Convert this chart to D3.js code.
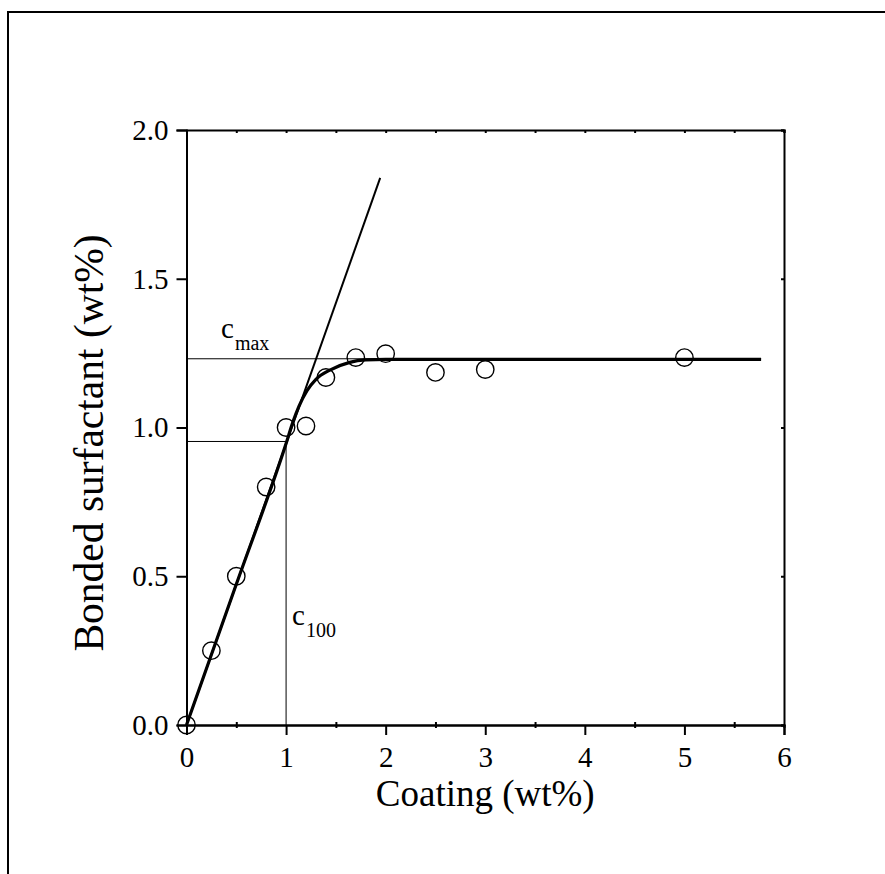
<!DOCTYPE html>
<html>
<head>
<meta charset="utf-8">
<script src="https://cdn.jsdelivr.net/npm/d3@7"></script>
<style>
  html, body { margin: 0; padding: 0; background: #fff; }
  svg { display: block; }
  text { font-family: "Liberation Serif", "Times New Roman", serif; fill: #000; }
</style>
</head>
<body>
<svg id="chart" width="885" height="874"></svg>
<script>
// ---- data ----
const coating    = [0, 0.25, 0.5, 0.8, 1.0, 1.2, 1.4, 1.7, 2.0, 2.5, 3.0, 5.0];
const surfactant = [0, 0.25, 0.5, 0.8, 1.0, 1.005, 1.168, 1.235, 1.248, 1.185, 1.195, 1.235];

const fitX = [0, 0.5, 1.0, 1.07, 1.13, 1.21, 1.3, 1.44, 1.64, 1.8, 2.0, 5.77];
const fitY = [0, 0.473, 0.946, 1.02, 1.072, 1.124, 1.162, 1.193, 1.219, 1.227, 1.229, 1.229];

const slopeLineX = [0, 1.945];
const slopeLineY = [0, 1.839];

const cMax = 1.231;
const cMaxEndX = 5.77;
const c100X = 1.0;
const c100Y = 0.953;

const xTicks = [0, 1, 2, 3, 4, 5, 6];
const yTicks = [0.0, 0.5, 1.0, 1.5, 2.0];
const xMinor = [0.5, 1.5, 2.5, 3.5, 4.5, 5.5];

const xTitle = "Coating (wt%)";
const yTitle = "Bonded surfactant (wt%)";

(function () {
const FONT = '"Liberation Serif", "Times New Roman", serif';
// ---- layout ----
const svg = d3.select("#chart");
const L = 186.5, R = 784, T = 130, B = 725;
const x = d3.scaleLinear().domain([0, 6]).range([L, R]);
const y = d3.scaleLinear().domain([0, 2]).range([B, T]);

// outer frame
svg.append("path")
  .attr("d", "M8,874 L8,12 L885,12")
  .attr("fill", "none").attr("stroke", "#000").attr("stroke-width", 2);

// guide lines (thin)
const g = svg.append("g");
g.append("line")
  .attr("x1", x(0)).attr("x2", x(cMaxEndX))
  .attr("y1", y(cMax)).attr("y2", y(cMax))
  .attr("stroke", "#000").attr("stroke-width", 1);
g.append("line")
  .attr("x1", x(0)).attr("x2", x(c100X))
  .attr("y1", y(c100Y)).attr("y2", y(c100Y))
  .attr("stroke", "#000").attr("stroke-width", 1);
g.append("line")
  .attr("x1", x(c100X)).attr("x2", x(c100X))
  .attr("y1", y(0)).attr("y2", y(c100Y))
  .attr("stroke", "#000").attr("stroke-width", 1);

// slope line
g.append("path")
  .datum(d3.zip(slopeLineX, slopeLineY))
  .attr("d", d3.line().x(d => x(d[0])).y(d => y(d[1])))
  .attr("fill", "none").attr("stroke", "#000").attr("stroke-width", 2);

// fitted curve
g.append("path")
  .datum(d3.zip(fitX, fitY))
  .attr("d", d3.line().x(d => x(d[0])).y(d => y(d[1])).curve(d3.curveMonotoneX))
  .attr("fill", "none").attr("stroke", "#000").attr("stroke-width", 3.2);

// axes
const axisStroke = 2;
const axB = svg.append("g").attr("transform", `translate(0,${B})`)
  .call(d3.axisBottom(x).tickValues(xTicks).tickSize(10).tickPadding(11).tickFormat(d3.format("d")));
const axL = svg.append("g").attr("transform", `translate(${L},0)`)
  .call(d3.axisLeft(y).tickValues(yTicks).tickSize(10).tickPadding(8).tickFormat(d3.format(".1f")));
const axT = svg.append("g").attr("transform", `translate(0,${T})`)
  .call(d3.axisTop(x).tickValues(xTicks.concat(xMinor)).tickSize(-3).tickFormat(""));
const axR = svg.append("g").attr("transform", `translate(${R},0)`)
  .call(d3.axisRight(y).tickValues(yTicks).tickSize(-3).tickFormat(""));
const axBm = svg.append("g").attr("transform", `translate(0,${B})`)
  .call(d3.axisBottom(x).tickValues(xMinor).tickSize(3).tickFormat(""));

[axB, axL, axT, axR, axBm].forEach(a => {
  a.attr("font-family", FONT).attr("font-size", 29);
  a.select(".domain").attr("stroke", "#000").attr("stroke-width", axisStroke);
  a.selectAll(".tick line").attr("stroke", "#000").attr("stroke-width", axisStroke);
  a.selectAll(".tick text").style("font-family", FONT).style("font-size", "29px").attr("fill", "#000");
});
axBm.selectAll(".tick line").attr("y1", -3);

// points
svg.append("g").selectAll("circle")
  .data(d3.zip(coating, surfactant))
  .join("circle")
  .attr("cx", d => x(d[0])).attr("cy", d => y(d[1]))
  .attr("r", 8.7)
  .attr("fill", "none").attr("stroke", "#000").attr("stroke-width", 1.4);

// annotations
const cmaxT = svg.append("text").attr("x", 221).attr("y", 338)
  .style("font-family", FONT).style("font-size", "29px");
cmaxT.append("tspan").text("c");
cmaxT.append("tspan").attr("dy", 12).attr("dx", 1).style("font-size", "20px").text("max");

const c100T = svg.append("text").attr("x", 292).attr("y", 625)
  .style("font-family", FONT).style("font-size", "29px");
c100T.append("tspan").text("c");
c100T.append("tspan").attr("dy", 12).attr("dx", 1).style("font-size", "20px").text("100");

// axis titles
svg.append("text")
  .attr("x", (L + R) / 2).attr("y", 806)
  .attr("text-anchor", "middle")
  .style("font-family", FONT).style("font-size", "37px")
  .text(xTitle);
svg.append("text")
  .attr("transform", `translate(103,443) rotate(-90)`)
  .attr("text-anchor", "middle")
  .style("font-family", FONT).style("font-size", "41.5px")
  .text(yTitle);
})();
</script>
</body>
</html>
